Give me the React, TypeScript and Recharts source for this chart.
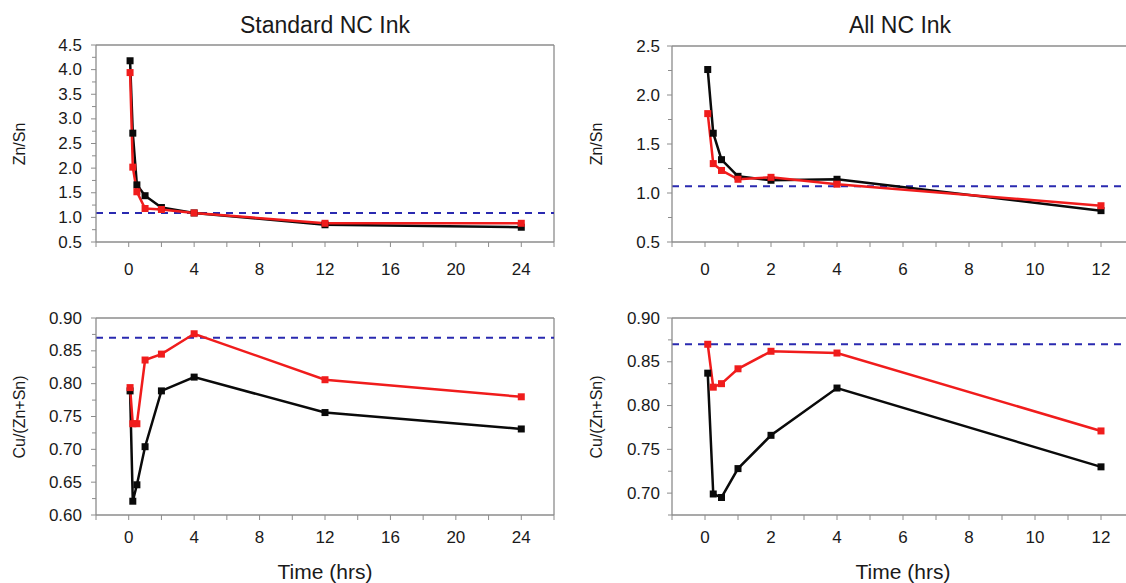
import React from 'react';
import { LineChart, Line, XAxis, YAxis, ReferenceLine } from 'recharts';

// sampling times (hrs)
const stdTimes = [0.083, 0.25, 0.5, 1, 2, 4, 12, 24];
const allTimes = [0.083, 0.25, 0.5, 1, 2, 4, 12];

// Zn/Sn
const stdZnSnBlack = [4.18, 2.71, 1.66, 1.44, 1.2, 1.09, 0.85, 0.8];
const stdZnSnRed = [3.94, 2.02, 1.52, 1.18, 1.16, 1.09, 0.88, 0.88];
const allZnSnBlack = [2.26, 1.61, 1.34, 1.17, 1.13, 1.14, 0.82];
const allZnSnRed = [1.81, 1.3, 1.23, 1.14, 1.16, 1.09, 0.87];

// Cu/(Zn+Sn)
const stdCuBlack = [0.789, 0.621, 0.646, 0.704, 0.789, 0.81, 0.756, 0.731];
const stdCuRed = [0.794, 0.739, 0.739, 0.836, 0.845, 0.876, 0.806, 0.78];
const allCuBlack = [0.837, 0.699, 0.695, 0.728, 0.766, 0.82, 0.73];
const allCuRed = [0.87, 0.821, 0.825, 0.842, 0.862, 0.86, 0.771];

// nominal ratios (dashed lines)
const stdZnSnRef = 1.09;
const allZnSnRef = 1.07;
const cuRef = 0.87;

// axis ticks
const stdTimeTicks = [-2, 0, 2, 4, 6, 8, 10, 12, 14, 16, 18, 20, 22, 24, 26];
const stdTimeLabels = [0, 4, 8, 12, 16, 20, 24];
const allTimeTicks = [-1, 0, 1, 2, 3, 4, 5, 6, 7, 8, 9, 10, 11, 12, 13];
const allTimeLabels = [0, 2, 4, 6, 8, 10, 12];
const znStdTicks = [0.5, 0.75, 1, 1.25, 1.5, 1.75, 2, 2.25, 2.5, 2.75, 3, 3.25, 3.5, 3.75, 4, 4.25, 4.5];
const znStdLabels = [0.5, 1, 1.5, 2, 2.5, 3, 3.5, 4, 4.5];
const znAllTicks = [0.5, 0.75, 1, 1.25, 1.5, 1.75, 2, 2.25, 2.5];
const znAllLabels = [0.5, 1, 1.5, 2, 2.5];
const cuStdTicks = [0.6, 0.625, 0.65, 0.675, 0.7, 0.725, 0.75, 0.775, 0.8, 0.825, 0.85, 0.875, 0.9];
const cuStdLabels = [0.6, 0.65, 0.7, 0.75, 0.8, 0.85, 0.9];
const cuAllTicks = [0.675, 0.7, 0.725, 0.75, 0.775, 0.8, 0.825, 0.85, 0.875, 0.9];
const cuAllLabels = [0.7, 0.75, 0.8, 0.85, 0.9];

const AXIS = '#8c8c8c';
const TEXT = '#1a1a1a';
const BLACK = '#0a0a0a';
const RED = '#f01c1c';
const BLUE = '#2a2ab0';
const FONT = '"Liberation Sans", Arial, sans-serif';

const has = (list: number[], v: number) => list.some((l) => Math.abs(l - v) < 1e-6);

const toRows = (t: number[], black: number[], red: number[]) =>
  t.map((time, i) => ({ t: time, black: black[i], red: red[i] }));

const square = (color: string) => (p: any) => (
  <rect key={p.index} x={p.cx - 3.5} y={p.cy - 3.5} width={7} height={7} fill={color} />
);

function Panel(props: any) {
  const {
    left, top, width, height, margin, yWidth, xHeight, data,
    xDomain, xTicks, xLabels, yDomain, yTicks, yLabels, digits, refY, gap, xLabelDy,
  } = props;

  const xTick = (p: any) => {
    const v = p.payload.value;
    const major = has(xLabels, v);
    return (
      <g key={p.index}>
        <line x1={p.x} x2={p.x} y1={p.y} y2={p.y + 5} stroke={AXIS} />
        {major && (
          <text x={p.x} y={p.y + xLabelDy} textAnchor="middle" dominantBaseline="central"
            fontSize={17} fill={TEXT} fontFamily={FONT}>{v}</text>
        )}
      </g>
    );
  };

  const yTick = (p: any) => {
    const v = p.payload.value;
    const major = has(yLabels, v);
    return (
      <g key={p.index}>
        <line x1={p.x - (major ? 5 : 4)} x2={p.x} y1={p.y} y2={p.y} stroke={AXIS} />
        {major && (
          <text x={p.x - gap} y={p.y} textAnchor="end" dominantBaseline="central"
            fontSize={17} fill={TEXT} fontFamily={FONT}>{v.toFixed(digits)}</text>
        )}
      </g>
    );
  };

  return (
    <div style={{ position: 'absolute', left, top }}>
      <LineChart width={width} height={height} data={data} margin={margin}>
        <XAxis type="number" dataKey="t" domain={xDomain} ticks={xTicks} allowDataOverflow
          height={xHeight} tickSize={0} tickMargin={0} tickLine={false} interval={0}
          axisLine={{ stroke: AXIS, strokeWidth: 1.3 }} tick={xTick} />
        <YAxis type="number" domain={yDomain} ticks={yTicks} allowDataOverflow
          width={yWidth} tickSize={0} tickMargin={0} tickLine={false} interval={0}
          axisLine={{ stroke: AXIS, strokeWidth: 1.3 }} tick={yTick} />
        <ReferenceLine y={yDomain[1]} stroke={AXIS} strokeWidth={1.3} />
        <ReferenceLine x={xDomain[1]} stroke={AXIS} strokeWidth={1.3} />
        <ReferenceLine y={refY} stroke={BLUE} strokeWidth={2} strokeDasharray="7 6" />
        <Line type="linear" dataKey="black" stroke={BLACK} strokeWidth={2.5}
          dot={square(BLACK)} activeDot={false} isAnimationActive={false} />
        <Line type="linear" dataKey="red" stroke={RED} strokeWidth={2.5}
          dot={square(RED)} activeDot={false} isAnimationActive={false} />
      </LineChart>
    </div>
  );
}

const textStyle: React.CSSProperties = {
  position: 'absolute', fontFamily: FONT, color: TEXT, whiteSpace: 'nowrap',
};

function Label({ x, y, size, rotate, children }: any) {
  return (
    <div style={{
      ...textStyle, left: x, top: y, fontSize: size,
      transform: `translate(-50%, -50%)${rotate ? ' rotate(-90deg)' : ''}`,
    }}>{children}</div>
  );
}

export default function App() {
  return (
    <div style={{
      position: 'absolute', left: 0, top: 0, width: 1126, height: 583,
      overflow: 'hidden', background: '#fff',
    }}>
      <Label x={325} y={25} size={23}>Standard NC Ink</Label>
      <Label x={900} y={25} size={23}>All NC Ink</Label>
      <Label x={20} y={144} size={16} rotate>Zn/Sn</Label>
      <Label x={597} y={144} size={16} rotate>Zn/Sn</Label>
      <Label x={20} y={417} size={16} rotate>Cu/(Zn+Sn)</Label>
      <Label x={597} y={417} size={16} rotate>Cu/(Zn+Sn)</Label>
      <Label x={325} y={572} size={21}>Time (hrs)</Label>
      <Label x={903} y={572} size={21}>Time (hrs)</Label>

      <Panel left={0} top={0} width={580} height={290}
        margin={{ top: 45, right: 26, bottom: 0, left: 0 }} yWidth={96} xHeight={48}
        data={toRows(stdTimes, stdZnSnBlack, stdZnSnRed)}
        xDomain={[-2, 26]} xTicks={stdTimeTicks} xLabels={stdTimeLabels}
        yDomain={[0.5, 4.5]} yTicks={znStdTicks} yLabels={znStdLabels} digits={1}
        refY={stdZnSnRef} gap={14} xLabelDy={27} />

      <Panel left={560} top={0} width={600} height={290}
        margin={{ top: 46, right: 26, bottom: 0, left: 0 }} yWidth={112} xHeight={48}
        data={toRows(allTimes, allZnSnBlack, allZnSnRed)}
        xDomain={[-1, 13]} xTicks={allTimeTicks} xLabels={allTimeLabels}
        yDomain={[0.5, 2.5]} yTicks={znAllTicks} yLabels={znAllLabels} digits={1}
        refY={allZnSnRef} gap={12} xLabelDy={27} />

      <Panel left={0} top={290} width={580} height={293}
        margin={{ top: 28, right: 26, bottom: 0, left: 0 }} yWidth={96} xHeight={68}
        data={toRows(stdTimes, stdCuBlack, stdCuRed)}
        xDomain={[-2, 26]} xTicks={stdTimeTicks} xLabels={stdTimeLabels}
        yDomain={[0.6, 0.9]} yTicks={cuStdTicks} yLabels={cuStdLabels} digits={2}
        refY={cuRef} gap={14} xLabelDy={22} />

      <Panel left={560} top={290} width={600} height={293}
        margin={{ top: 28, right: 26, bottom: 0, left: 0 }} yWidth={112} xHeight={68}
        data={toRows(allTimes, allCuBlack, allCuRed)}
        xDomain={[-1, 13]} xTicks={allTimeTicks} xLabels={allTimeLabels}
        yDomain={[0.675, 0.9]} yTicks={cuAllTicks} yLabels={cuAllLabels} digits={2}
        refY={cuRef} gap={12} xLabelDy={22} />
    </div>
  );
}
